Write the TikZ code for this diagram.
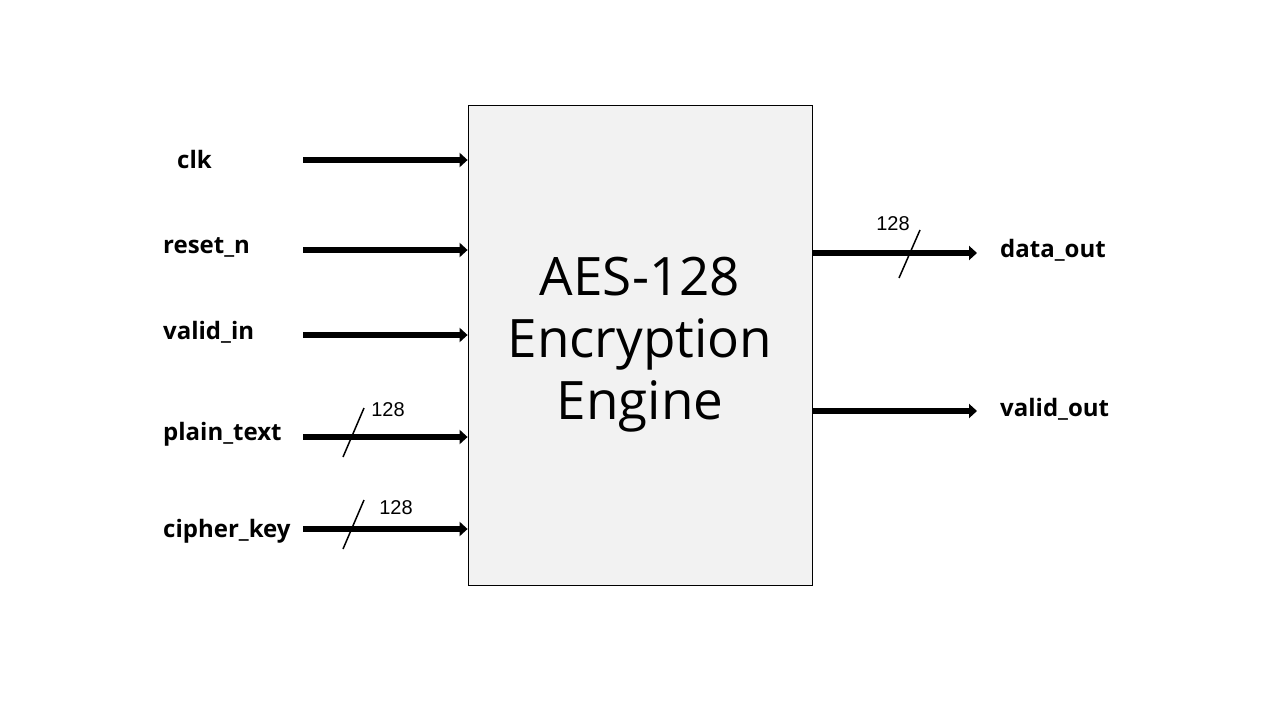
\documentclass[tikz,border=0pt]{standalone}
\usepackage{fontspec}
\setmainfont{Open Sans}
\newfontfamily\numfont{Liberation Sans}
\usetikzlibrary{arrows.meta}
\begin{document}
\begin{tikzpicture}[x=1pt,y=-1pt,
  sig/.style={line width=6.5pt,-{Triangle[length=8pt,width=14pt]}},
  lbl/.style={font=\fontsize{24}{28}\selectfont\bfseries,anchor=west,inner sep=0pt},
  bus/.style={line width=1.5pt},
  buslbl/.style={font=\fontsize{20}{24}\selectfont\numfont,inner sep=0pt}]
\useasboundingbox (0,0) rectangle (1280,720);
\node[draw=black,line width=0.8pt,fill=black!5,minimum width=344pt,minimum height=480pt,inner sep=0pt,
  font=\fontsize{53}{62}\selectfont,align=center] (box) at (640,345) {AES-128\\Encryption\\Engine};
% input labels
\node[lbl] (clk) at (177,159) {clk};
\node[lbl] (rst) at (163,247) {reset\_n};
\node[lbl] (vin) at (163,332) {valid\_in};
\node[lbl] (pt) at (163,434) {plain\_text};
\node[lbl] (ck) at (163,531) {cipher\_key};
\node[lbl] (dout) at (1000,250) {data\_out};
\node[lbl] (vout) at (1000,409) {valid\_out};
% connector starts
\coordinate (c1) at (303,160);
\coordinate (c2) at (303,250);
\coordinate (c3) at (303,335);
\coordinate (c4) at (303,437);
\coordinate (c5) at (303,529);
\coordinate (o1) at (977,253);
\coordinate (o2) at (977,411);
\draw[sig] (c1) -- (c1 -| box.west);
\draw[sig] (c2) -- (c2 -| box.west);
\draw[sig] (c3) -- (c3 -| box.west);
\draw[sig] (c4) -- (c4 -| box.west);
\draw[sig] (c5) -- (c5 -| box.west);
\draw[sig] (o1 -| box.east) -- (o1);
\draw[sig] (o2 -| box.east) -- (o2);
% bus slashes
\coordinate (s1a) at (343,457); \coordinate (s1b) at (364,408);
\coordinate (s2a) at (343,549); \coordinate (s2b) at (364,500);
\coordinate (s3a) at (899,278); \coordinate (s3b) at (920,230);
\draw[bus] (s1a) -- (s1b);
\draw[bus] (s2a) -- (s2b);
\draw[bus] (s3a) -- (s3b);
\node[buslbl] (w1) at (388,410) {128};
\node[buslbl] (w2) at (396,508) {128};
\node[buslbl] (w3) at (893,224) {128};
\end{tikzpicture}
\end{document}
